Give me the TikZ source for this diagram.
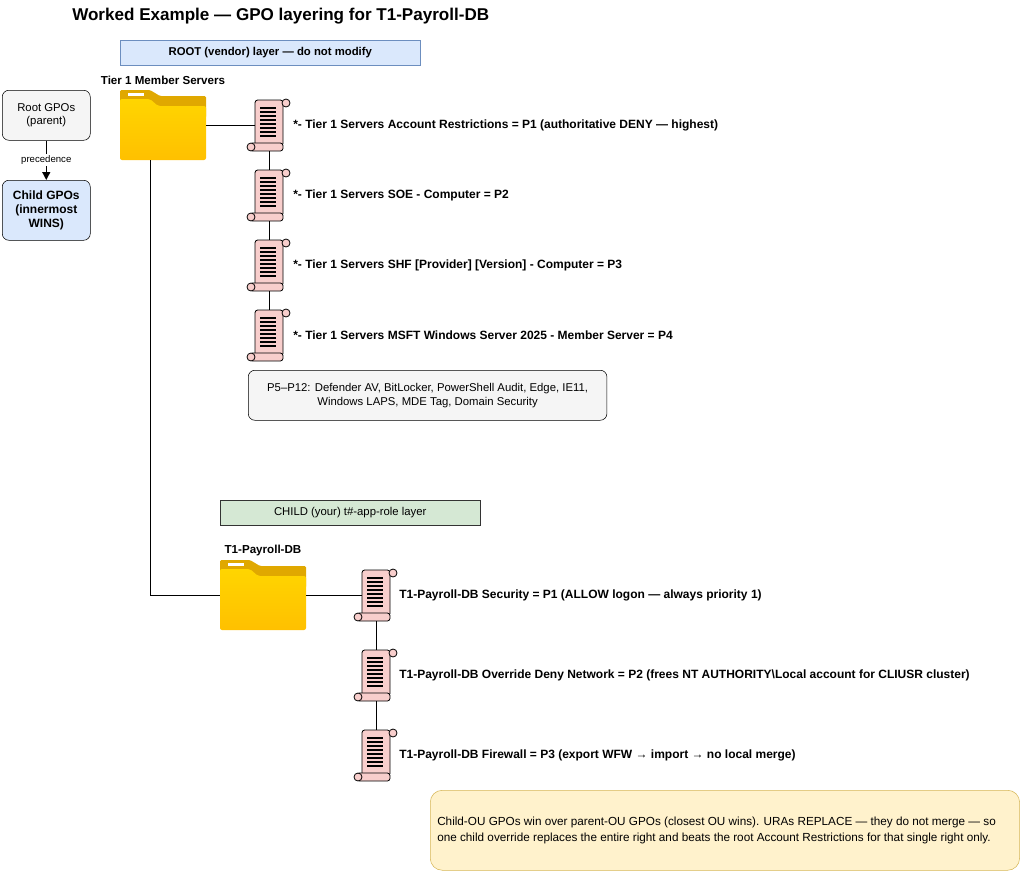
\documentclass[tikz,border=0pt]{standalone}
\usepackage{fontspec}
\setmainfont{Liberation Sans}
\usetikzlibrary{arrows.meta}
\definecolor{bluef}{HTML}{DAE8FC}\definecolor{blues}{HTML}{6C8EBF}
\definecolor{greenf}{HTML}{D5E8D4}\definecolor{greens}{HTML}{82B366}
\definecolor{grayf}{HTML}{F5F5F5}\definecolor{grays}{HTML}{666666}
\definecolor{notef}{HTML}{FFF2CC}\definecolor{notes}{HTML}{D6B656}
\definecolor{scrollf}{HTML}{F8CECC}
\definecolor{ftab}{HTML}{E0A800}\definecolor{ftop}{HTML}{FFD500}\definecolor{fbot}{HTML}{FFC000}
\tikzset{
 lbl/.style={font=\fontsize{9}{10}\selectfont\bfseries, anchor=west, inner sep=0},
 band/.style={draw, font=\fontsize{8.5}{10}\selectfont, minimum height=18.75pt, anchor=north west, inner sep=0},
 legend/.style={draw, rounded corners=5pt, minimum width=66pt, align=center, anchor=north west, font=\fontsize{8.5}{10}\selectfont, inner sep=0},
 conn/.style={draw, line width=0.7pt},
 scroll/.pic={
   \draw[fill=scrollf, line width=0.6pt, rounded corners=2pt] (-14,-25) rectangle (14,21);
   \draw[fill=scrollf, line width=0.6pt] (17,-22) circle (4);
   \draw[fill=scrollf, line width=0.6pt, rounded corners=2pt] (-19,18) rectangle (14,26);
   \draw[fill=scrollf, line width=0.6pt] (-18,22) circle (4);
   \foreach \k in {0,...,7} \draw[line width=1pt] (-9,-17+\k*4) -- (7,-17+\k*4);
 },
 folder/.pic={
   \fill[ftab, rounded corners=1pt] (0,0) -- (0,-8) -- (30,-8) -- (40,-2) -- (86,-2) -- (86,20) -- (0,20) -- cycle;
   \fill[white] (8,-5) rectangle (24,-2);
   \shade[top color=ftop, bottom color=fbot, rounded corners=1.5pt] (0,1) -- (30,1) -- (38,8) -- (86,8) -- (86,62) -- (0,62) -- cycle;
 }
}
\begin{document}
\begin{tikzpicture}[x=0.75pt,y=-0.75pt]
\useasboundingbox (0,0) rectangle (1022,871);
\node[anchor=west, font=\fontsize{12.8}{15}\selectfont\bfseries, inner sep=0] (title) at (72,16) {Worked Example — GPO layering for T1-Payroll-DB};
\node[band, fill=bluef, draw=blues, minimum width=225pt, font=\fontsize{8.5}{10}\selectfont\bfseries] (root) at (120,40) {ROOT (vendor) layer — do not modify};
\node[band, fill=greenf, draw=black!80, minimum width=195pt] (child) at (220,500) {CHILD (your) t\#-app-role layer};
\node[legend, fill=grayf, minimum height=37.5pt] (rg) at (2,90) {Root GPOs\\(parent)};
\node[legend, fill=bluef, minimum height=45pt, font=\fontsize{9}{10.5}\selectfont\bfseries] (cg) at (2,180) {Child GPOs\\(innermost\\WINS)};
\draw[line width=1pt, -{Triangle[length=6pt,width=6pt]}] (rg.south) -- node[fill=white, font=\fontsize{7.2}{9}\selectfont, inner sep=1pt]{precedence} (cg.north);
\node[font=\fontsize{8.7}{10}\selectfont\bfseries] (f1l) at (163,80) {Tier 1 Member Servers};
\pic at (120,98) {folder};
\coordinate (f1) at (206,125); \coordinate (f1b) at (150,160);
\node[font=\fontsize{8.7}{10}\selectfont\bfseries] (f2l) at (263,550) {T1-Payroll-DB};
\pic at (220,568) {folder};
\coordinate (f2) at (306,595); \coordinate (f2w) at (220,595);
\foreach \n/\y in {a/125,b/195,c/265,d/335}{\pic at (269,\y) {scroll}; \coordinate (s\n t) at (269,\y-25); \coordinate (s\n b) at (269,\y+26); \coordinate (s\n w) at (255,\y);}
\foreach \n/\y in {e/595,f/675,g/755}{\pic at (376,\y) {scroll}; \coordinate (s\n t) at (376,\y-25); \coordinate (s\n b) at (376,\y+26); \coordinate (s\n w) at (362,\y);}
\draw[conn] (f1) -- (saw); \draw[conn] (sab) -- (sbt); \draw[conn] (sbb) -- (sct); \draw[conn] (scb) -- (sdt);
\draw[conn] (f1b) |- (f2w);
\draw[conn] (f2) -- (sew); \draw[conn] (seb) -- (sft); \draw[conn] (sfb) -- (sgt);
\node[lbl] (ta) at (293,125) {*- Tier 1 Servers Account Restrictions = P1 (authoritative DENY — highest)};
\node[lbl] (tb) at (293,195) {*- Tier 1 Servers SOE - Computer = P2};
\node[lbl] (tc) at (293,265) {*- Tier 1 Servers SHF [Provider] [Version] - Computer = P3};
\node[lbl] (td) at (293,335) {*- Tier 1 Servers MSFT Windows Server 2025 - Member Server = P4};
\node[lbl] (te) at (399,595) {T1-Payroll-DB Security = P1 (ALLOW logon — always priority 1)};
\node[lbl] (tf) at (399,675) {T1-Payroll-DB Override Deny Network = P2 (frees NT AUTHORITY\textbackslash Local account for CLIUSR cluster)};
\node[lbl] (tg) at (399,755) {T1-Payroll-DB Firewall = P3 (export WFW → import → no local merge)};
\node[draw, fill=grayf, rounded corners=5pt, anchor=north west, minimum width=269pt, minimum height=37.5pt, align=center, inner sep=0, font=\fontsize{8.5}{10.5}\selectfont] (p5) at (248,370) {P5–P12: Defender AV, BitLocker, PowerShell Audit, Edge, IE11,\\Windows LAPS, MDE Tag, Domain Security};
\node[draw=notes, fill=notef, rounded corners=9pt, anchor=north west, minimum width=442pt, minimum height=60pt, inner sep=0] (note) at (430,790) {};
\node[anchor=west, align=left, inner sep=0, font=\fontsize{8.8}{12}\selectfont] (notet) at (437,830) {Child-OU GPOs win over parent-OU GPOs (closest OU wins). URAs REPLACE — they do not merge — so\\one child override replaces the entire right and beats the root Account Restrictions for that single right only.};
\end{tikzpicture}
\end{document}
